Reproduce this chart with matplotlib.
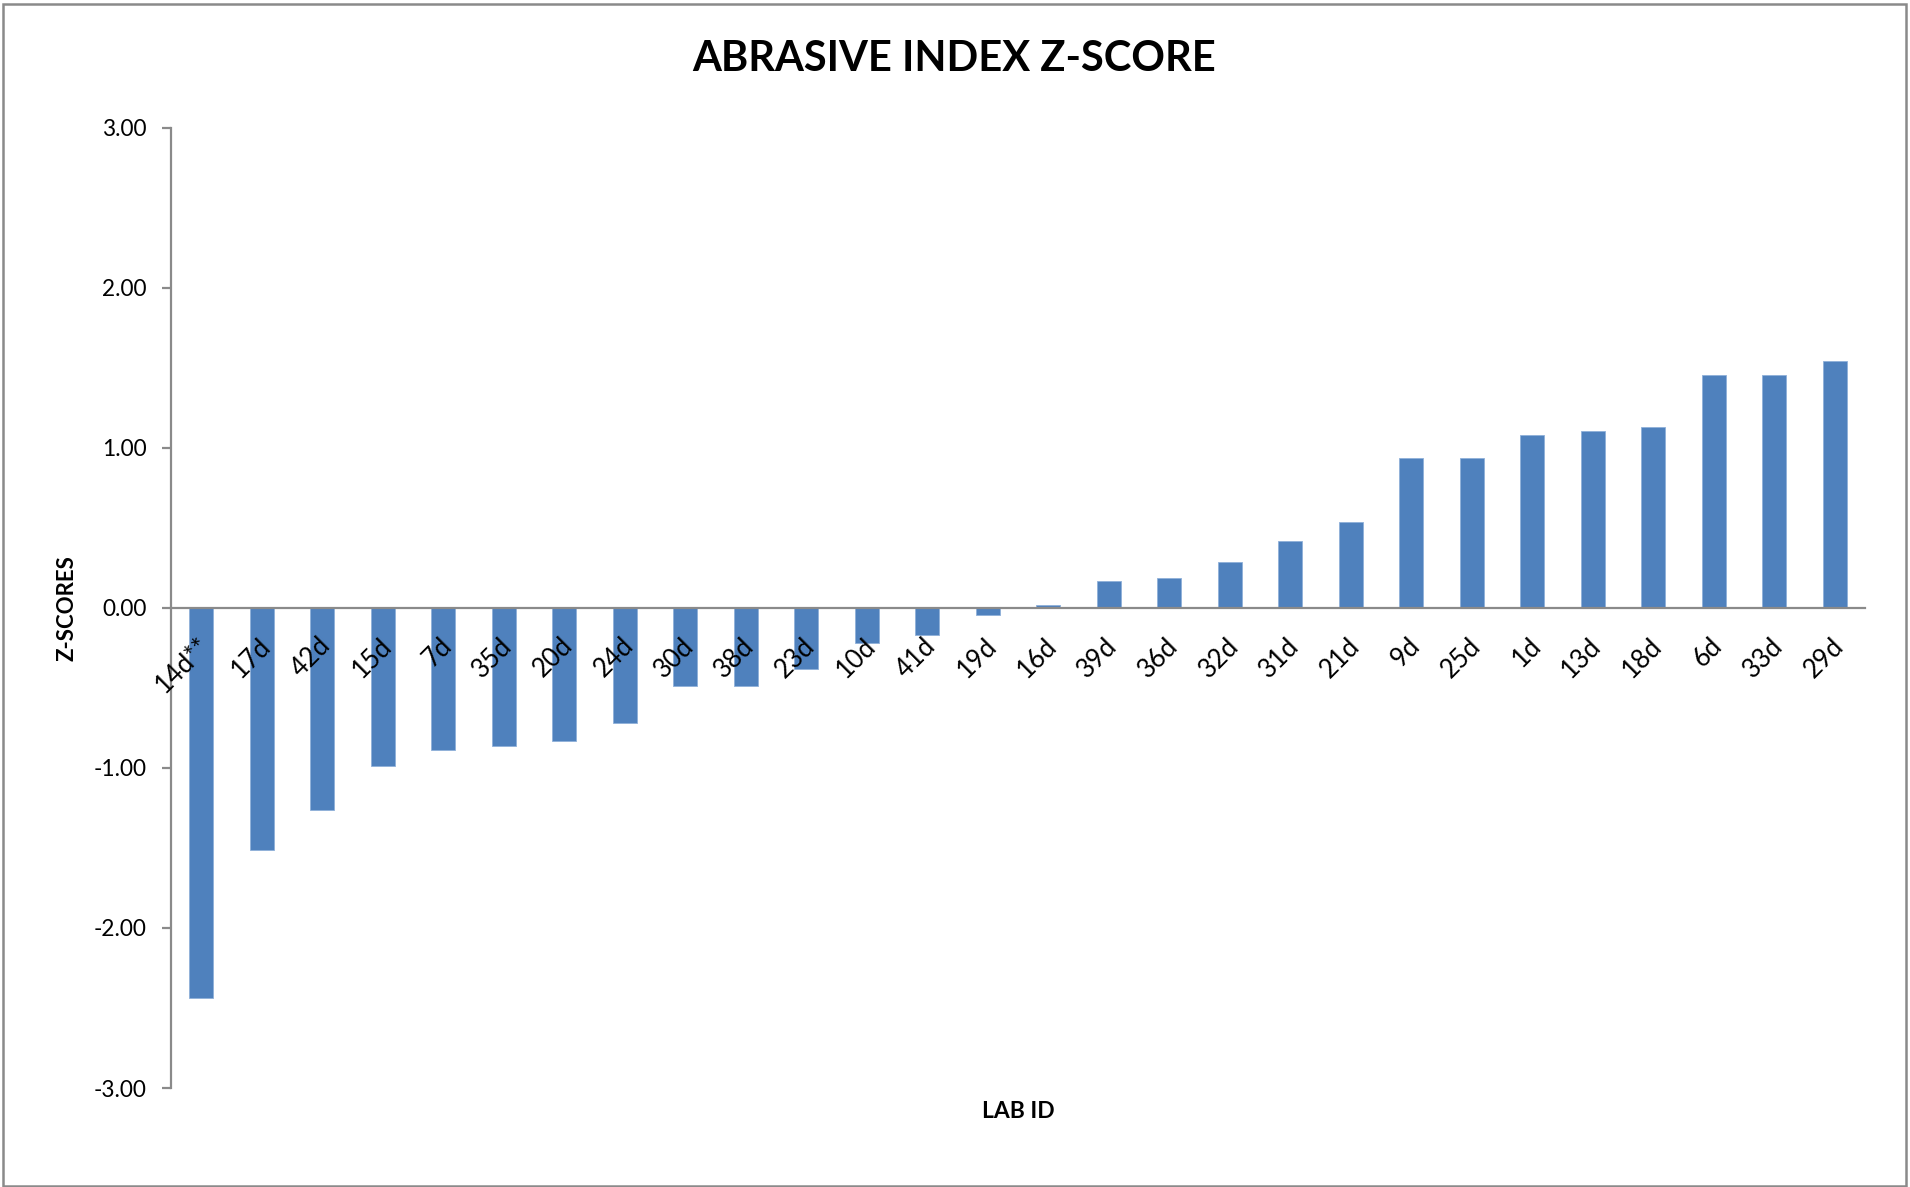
import matplotlib
matplotlib.use('Agg')
import matplotlib.pyplot as plt
import matplotlib.ticker as ticker
import matplotlib.transforms as mtransforms
from matplotlib.patches import Rectangle

labs = ["14d**", "17d", "42d", "15d", "7d", "35d", "20d", "24d", "30d", "38d",
        "23d", "10d", "41d", "19d", "16d", "39d", "36d", "32d", "31d", "21d",
        "9d", "25d", "1d", "13d", "18d", "6d", "33d", "29d"]
zscores = [-2.44, -1.51, -1.26, -0.99, -0.89, -0.865, -0.83, -0.72, -0.49, -0.49,
           -0.38, -0.22, -0.17, -0.046, 0.02, 0.167, 0.19, 0.29, 0.417, 0.54,
           0.935, 0.935, 1.083, 1.108, 1.133, 1.456, 1.456, 1.544]
yticks = [-3, -2, -1, 0, 1, 2, 3]

axis_gray = "#8a8a8a"
bar_blue = "#4f81bd"

plt.rcParams['font.family'] = ['Lato', 'DejaVu Sans']

fig = plt.figure(figsize=(19.10, 11.87), dpi=100)
ax = fig.add_axes([0.0895, 0.0834, 0.8869, 0.8088])
ax.set_axisbelow(False)

x = range(len(labs))
ax.bar(x, zscores, width=0.4, color=bar_blue, edgecolor="#8fb0d9", linewidth=0.6, zorder=2)

ax.set_xlim(-0.5, len(labs) - 0.5)
ax.set_ylim(-3, 3)
ax.set_yticks(yticks)
ax.yaxis.set_major_formatter(ticker.FormatStrFormatter('%.2f'))

for s in ["top", "right"]:
    ax.spines[s].set_visible(False)
ax.spines["left"].set_color(axis_gray)
ax.spines["left"].set_linewidth(1.6)
ax.spines["bottom"].set_color(axis_gray)
ax.spines["bottom"].set_linewidth(1.6)
ax.spines["bottom"].set_position(("data", 0))
ax.spines["bottom"].set_zorder(3)

ax.tick_params(axis="y", direction="out", length=6.5, width=1.6, color=axis_gray,
               labelsize=16.3, pad=11)
ax.tick_params(axis="x", length=0, labelsize=18.5, pad=18)
ax.set_xticks(list(x))
ax.set_xticklabels(labs, rotation=45, ha="right", va="top", rotation_mode="anchor")
shift = mtransforms.ScaledTranslation(-4 / 100, 0, fig.dpi_scale_trans)
for lbl in ax.get_xticklabels():
    lbl.set_transform(lbl.get_transform() + shift)

fig.text(0.4995, 0.9505, "ABRASIVE INDEX Z-SCORE", ha="center", va="center",
         fontsize=30, fontweight="bold")
fig.text(67 / 1910, 1 - 608 / 1187, "Z-SCORES", ha="center", va="center",
         rotation=90, fontsize=16, fontweight="bold")
fig.text(1018 / 1910, 1 - 1111 / 1187, "LAB ID", ha="center", va="center",
         fontsize=16.5, fontweight="bold")

# chart area border
fig.patches.append(Rectangle((0.0015, 0.001), 0.9965, 0.9955, transform=fig.transFigure,
                             fill=False, edgecolor=axis_gray, linewidth=1.8))

fig.savefig("out.png", dpi=100)
